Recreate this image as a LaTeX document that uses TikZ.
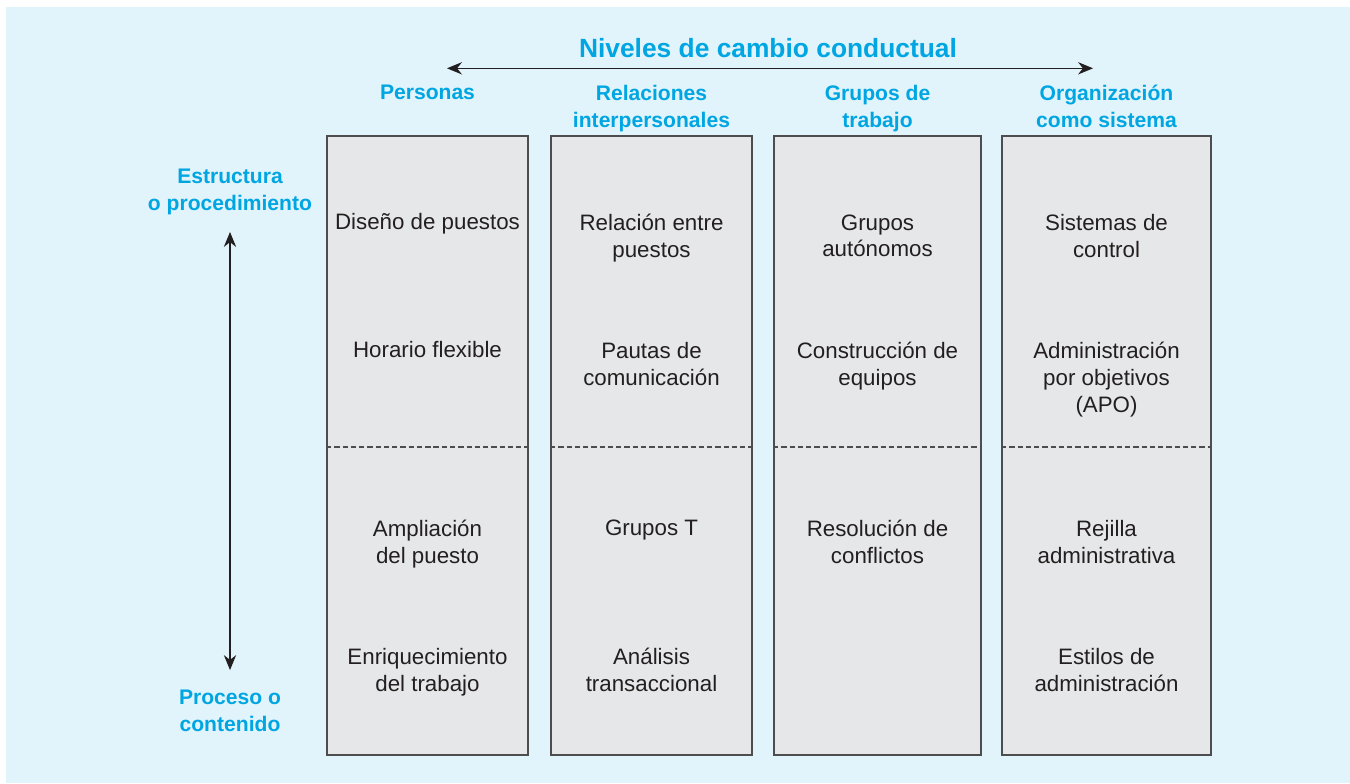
\documentclass[tikz,border=0pt]{standalone}
\usepackage{fontspec}
\setmainfont{Liberation Sans}
\usetikzlibrary{arrows.meta}
\definecolor{bgblue}{HTML}{E1F3FB}
\definecolor{headblue}{HTML}{00A6E2}
\definecolor{boxgray}{HTML}{E6E7E8}
\definecolor{linegray}{HTML}{4D4D4F}
\definecolor{inkgray}{HTML}{231F20}

\begin{document}
\begin{tikzpicture}[
  colbox/.style={draw=linegray, line width=1pt, fill=boxgray, minimum height=12.38cm, inner sep=0pt},
  cell/.style={anchor=north, inner sep=0pt, align=center, text=inkgray,
    font=\fontsize{12.7}{15.3}\selectfont, execute at begin node=\strut},
  head/.style={anchor=north, inner sep=0pt, align=center, text=headblue,
    font=\fontsize{12}{15.3}\selectfont\bfseries, execute at begin node=\strut},
  divide/.style={draw=linegray, line width=0.6pt, dash pattern=on 3pt off 1.7pt},
  level/.style={draw=inkgray, line width=0.6pt, {Stealth[length=8.5pt,width=7pt]}-{Stealth[length=8.5pt,width=7pt]}}
  ]
  \useasboundingbox (0,0) rectangle (27,-15.66);
  \fill[bgblue] (0.12,-0.14) rectangle (27,-15.66);

  % title and horizontal arrow
  \node[anchor=base, inner sep=0pt, text=headblue, font=\fontsize{15}{18}\selectfont\bfseries]
    (title) at (15.36,-1.14) {Niveles de cambio conductual};
  \coordinate (levL) at (8.94,-1.366);
  \coordinate (levR) at (21.86,-1.366);
  \draw[level] (levL) -- (levR);

  % column headers
  \node[head] (h1) at (8.55,-1.602) {Personas};
  \node[head] (h2) at (13.03,-1.692) {Relaciones\\interpersonales};
  \node[head] (h3) at (17.55,-1.692) {Grupos de\\trabajo};
  \node[head] (h4) at (22.13,-1.692) {Organización\\como sistema};

  % vertical axis
  \node[head] (top) at (4.6,-3.382) {Estructura\\o procedimiento};
  \node[head] (bot) at (4.6,-13.802) {Proceso o\\contenido};
  \coordinate (axT) at (4.6,-4.64);
  \coordinate (axB) at (4.6,-13.4);
  \draw[level] (axT) -- (axB);

  % columns
  \node[colbox, minimum width=4.02cm] (col1) at (8.55,-8.91) {};
  \node[colbox, minimum width=4.02cm] (col2) at (13.03,-8.91) {};
  \node[colbox, minimum width=4.14cm] (col3) at (17.55,-8.91) {};
  \node[colbox, minimum width=4.18cm] (col4) at (22.13,-8.91) {};
  \foreach \c in {col1,col2,col3,col4}
    \draw[divide] (\c.west |- 0,-8.94) -- (\c.east |- 0,-8.94);

  % cells
  \node[cell] (c11) at (8.55,-4.202) {Diseño de puestos};
  \node[cell] (c12) at (8.55,-6.762) {Horario flexible};
  \node[cell] (c13) at (8.55,-10.402) {Ampliación\\del puesto};
  \node[cell] (c14) at (8.55,-12.962) {Enriquecimiento\\del trabajo};

  \node[cell] (c21) at (13.03,-4.282) {Relación entre\\puestos};
  \node[cell] (c22) at (13.03,-6.842) {Pautas de\\comunicación};
  \node[cell] (c23) at (13.03,-10.322) {Grupos T};
  \node[cell] (c24) at (13.03,-12.962) {Análisis\\transaccional};

  \node[cell] (c31) at (17.55,-4.282) {Grupos\\autónomos};
  \node[cell] (c32) at (17.55,-6.842) {Construcción de\\equipos};
  \node[cell] (c33) at (17.55,-10.402) {Resolución de\\conflictos};

  \node[cell] (c41) at (22.13,-4.282) {Sistemas de\\control};
  \node[cell] (c42) at (22.13,-6.842) {Administración\\por objetivos\\(APO)};
  \node[cell] (c43) at (22.13,-10.402) {Rejilla\\administrativa};
  \node[cell] (c44) at (22.13,-12.962) {Estilos de\\administración};
\end{tikzpicture}
\end{document}
